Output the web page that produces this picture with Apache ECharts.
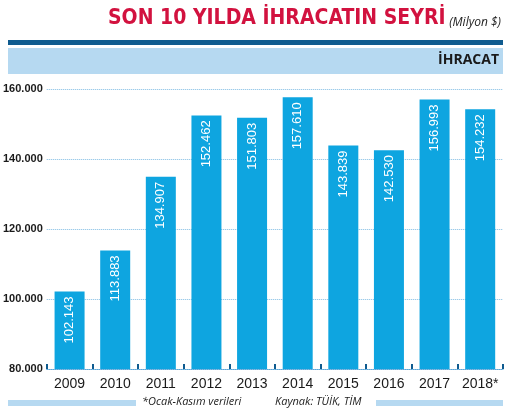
<!DOCTYPE html>
<html>
<head>
<meta charset="utf-8">
<script src="https://cdn.jsdelivr.net/npm/echarts@6/dist/echarts.min.js"></script>
<style>html,body{margin:0;padding:0;background:#fff}#main{width:509px;height:413px}</style>
</head>
<body>
<div id="main"></div>
<script>
var years = ['2009','2010','2011','2012','2013','2014','2015','2016','2017','2018*'];
var exports = [102143,113883,134907,152462,151803,157610,143839,142530,156993,154232];
var labels = ['102.143','113.883','134.907','152.462','151.803','157.610','143.839','142.530','156.993','154.232'];

function fmt(v){ return String(v).replace(/\B(?=(\d{3})+(?!\d))/g,'.'); }

var myChart = echarts.init(document.getElementById('main'));
var option = {
    animation: false,
    grid: {left: 44, right: 6, top: 89, bottom: 44},
    graphic: [
        {type:'text', left:108, top:8, style:{text:'SON 10 YILDA İHRACATIN SEYRİ', fill:'#d2123f', font:'bold 21px "Liberation Sans Narrow","DejaVu Sans Condensed",sans-serif'}},
        {type:'text', right:8, top:17, style:{text:'(Milyon $)', fill:'#222', font:'italic 12px "Open Sans",sans-serif'}},
        {type:'rect', shape:{x:8, y:40, width:495, height:5}, style:{fill:'#0f5b8f'}},
        {type:'rect', shape:{x:8, y:48, width:495, height:26}, style:{fill:'#b6d9f1'}},
        {type:'text', right:10, top:53, style:{text:'İHRACAT', fill:'#1a1a1a', font:'bold 14px "Open Sans",sans-serif'}},
        {type:'rect', shape:{x:8, y:400, width:128, height:6}, style:{fill:'#b6d9f1'}},
        {type:'rect', shape:{x:376, y:400, width:127, height:6}, style:{fill:'#b6d9f1'}},
        {type:'text', left:142, top:396, style:{text:'*Ocak-Kasım verileri', fill:'#222', font:'italic 11px "Open Sans",sans-serif'}},
        {type:'text', left:275, top:396, style:{text:'Kaynak: TÜİK, TİM', fill:'#222', font:'italic 11px "Open Sans",sans-serif'}}
    ],
    xAxis: {
        type: 'category',
        data: years,
        axisLine: {lineStyle: {color: '#5aa6d8', type: 'dotted'}},
        axisTick: {show: true, inside: true, length: 5, lineStyle: {color: '#0f5b8f', width: 2}},
        axisLabel: {interval: 0, color: '#1a1a1a', fontSize: 14, fontFamily: '"Liberation Sans Narrow",sans-serif', margin: 8}
    },
    yAxis: {
        type: 'value', min: 80000, max: 160000, interval: 20000,
        axisLine: {show: false}, axisTick: {show: false},
        splitLine: {lineStyle: {color: '#7dbbe3', type: 'dotted'}},
        axisLabel: {formatter: function(v){return fmt(v);}, color: '#1a1a1a', fontSize: 11, fontWeight: 'bold',
            fontFamily: '"Liberation Sans Narrow",sans-serif', margin: 4}
    },
    series: [{
        type: 'bar',
        data: exports,
        barWidth: 30,
        itemStyle: {color: '#0ea5e0'},
        label: {
            show: true, position: 'insideTop', rotate: 90, align: 'right', verticalAlign: 'middle',
            distance: 5,
            formatter: function(p){return labels[p.dataIndex];},
            color: '#fff', fontSize: 13, fontFamily: '"Liberation Sans Narrow",sans-serif'
        }
    }]
};
myChart.setOption(option);
</script>
</body>
</html>
